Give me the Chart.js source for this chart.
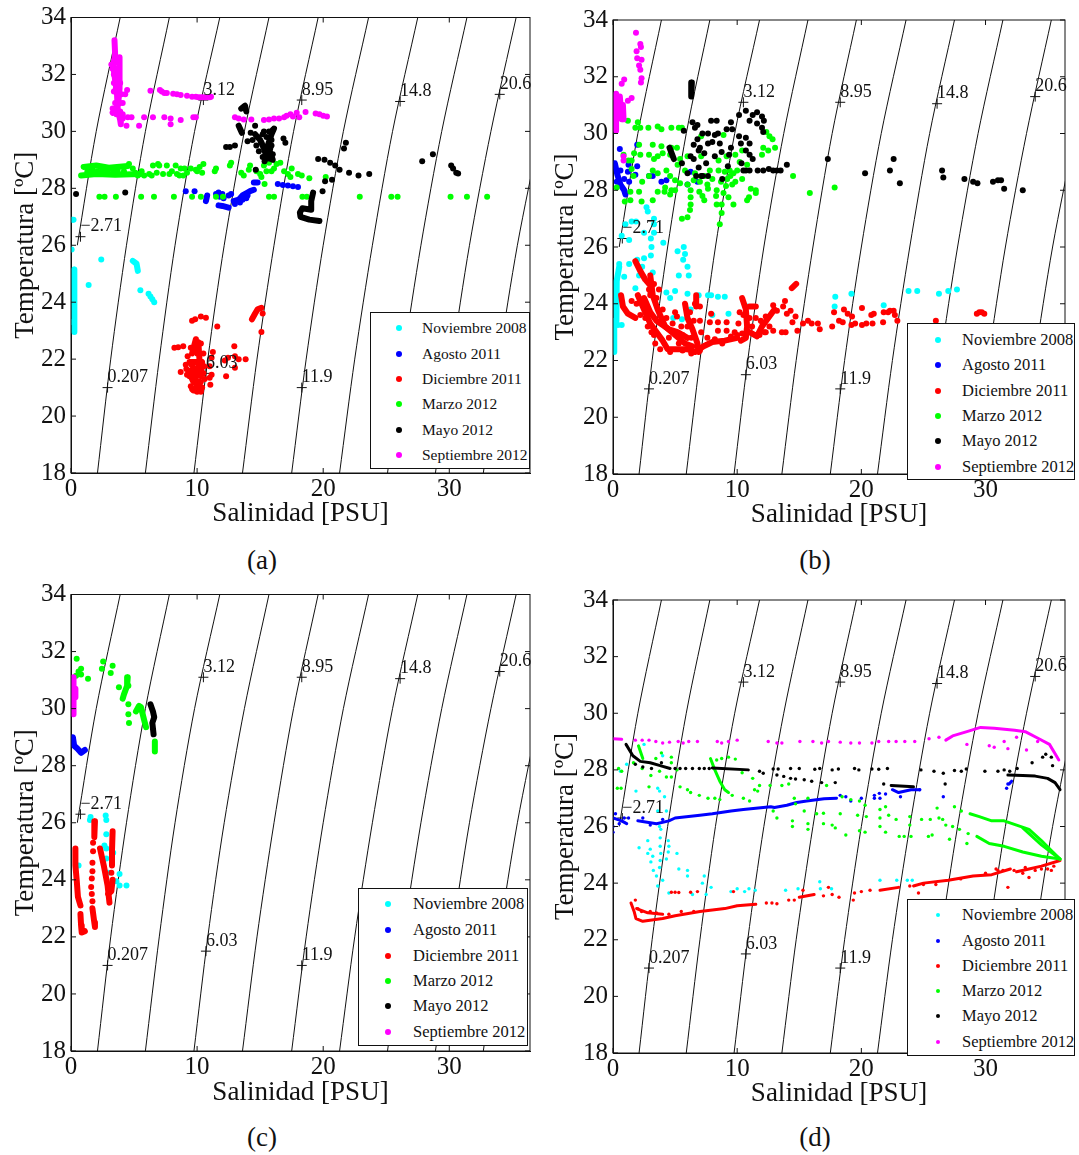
<!DOCTYPE html>
<html>
<head>
<meta charset="utf-8">
<title>Diagramas T-S</title>
<script src="https://cdn.jsdelivr.net/npm/chart.js@4"></script>
<style>
  body { margin: 0; background: #fff; width: 1079px; height: 1155px; position: relative; overflow: hidden; font-family: "Liberation Serif", serif; color: #111; }
  canvas { position: absolute; }
  .caption { position: absolute; font-size: 27px; transform: translate(-50%, -50%); }
  .legend { position: absolute; background: #fff; border: 1.5px solid #111; box-sizing: border-box; }
  .legend span { position: absolute; white-space: nowrap; transform: translateY(-50%); }
  .legend i { position: absolute; border-radius: 50%; transform: translate(-50%, -50%); }
</style>
</head>
<body>
<canvas id="panelA"></canvas>
<canvas id="panelB"></canvas>
<canvas id="panelC"></canvas>
<canvas id="panelD"></canvas>
<script>
const seriesNames = ['Noviembre 2008', 'Agosto 2011', 'Diciembre 2011', 'Marzo 2012', 'Mayo 2012', 'Septiembre 2012'];
const seriesColors = ['#00ffff', '#0000ff', '#ff0000', '#00ff00', '#000000', '#ff00ff'];
const xTitle = 'Salinidad [PSU]';
const yTitle = 'Temperatura [ºC]';

// isopicnas: salinidad leida a cada temperatura
const isoT = [18, 22, 26, 30, 34];
const isoLines = [
  [null, null, 0.5, 2.0, 3.9],
  [2.1, 3.15, 4.4, 5.9, 7.8],
  [5.9, 7.0, 8.25, 9.8, 11.8],
  [9.75, 10.85, 12.15, 13.75, 15.7],
  [13.6, 14.75, 16.1, 17.65, 19.6],
  [17.5, 18.65, 20.0, 21.6, 23.6],
  [21.3, 22.5, 23.9, 25.5, 27.5],
  [25.1, 26.35, 27.75, 29.4, 31.4],
  [28.9, 30.2, 31.6, 33.3, 35.3],
  [32.7, 33.95, 35.4, 37.2, null]
];
const isoLabels = ['\u22122.71', '3.12', '8.95', '14.8', '20.6', '0.207', '6.03', '11.9'];
const isoLabelS = [0.75, 10.5, 18.3, 26.1, 34.0, 2.9, 10.7, 18.3];
const isoLabelT = [26.3, 31.1, 31.1, 31.05, 31.3, 21.0, 21.5, 21.0];

// panel (a)
const aNov = [[0.1,26.9],[0.2,26.9],[0.05,25.85],[2.4,25.5],[5.5,24.42],[6.15,24.3],[6.3,24.2],[6.45,24.1],[6.6,24],[1.4,24.6],[0.05,23.3]];
const aNovT = [[[4.9,25.45],[5.2,25.35],[5.3,25.1]], [[0.25,25.15],[0.3,24.5],[0.25,23.3],[0.25,22.95]]];
const aAgo = [[9.1,27.9],[9.8,27.9],[11.5,27.8],[11.7,27.85],[11.8,27.7],[12,27.8],[12.1,27.65],[12.5,27.75],[12.7,27.8],[16.4,28.15],[16.8,28.12],[17.2,28.1],[17.6,28.07],[18,28.05],[13,27.45],[13.4,27.5],[13.6,27.6],[13.9,27.65],[14,27.75]];
const aAgoT = [[[10.7,27.55],[10.8,27.75]], [[11.7,27.4],[12,27.38],[12.5,27.32]], [[12.9,27.55],[13.3,27.6],[13.6,27.75],[14,27.85],[14.2,27.9],[14.5,27.95]], [[14.5,28.2],[14.8,28.2]]];
const aDic = [[8.7,21.55],[9.15,21.65],[8.2,22.4],[8.5,22.42],[8.9,22.45],[9.6,23.35],[9.85,23.4],[10.3,23.5],[10.7,23.45],[11.6,23.15],[11.25,22.25],[11.15,22.05],[11,21.75],[11.15,21.45],[11,21.35],[11.05,21.1],[10.4,21],[12.3,21.4],[12.2,21.95],[12.45,22.05],[12.95,22.45],[13,22.1],[13.3,22],[13.85,22],[13,21.7],[15.2,23.6],[15.1,22.95],[10.3,22.55],[9.4,21.4],[9.5,21.05],[9.6,21.8],[9.5,22.4],[9.8,22.4],[10,22.2],[10.1,21.7],[10.2,21.05],[10.5,21.5],[10.55,21.75],[9.95,21.1],[9.9,21.35],[10,20.85],[9.2,21.45],[9.1,21.8],[9.25,22.1],[10.5,22.2],[10.6,21.3],[9.6,20.95],[10.3,20.85]];
const aDicT = [[[9.9,22.7],[9.6,22.2],[10.1,22.6],[10.2,21.9],[9.4,21.9],[9.9,21.6],[10.4,21.9],[10.3,21.4],[9.3,21.6],[9.7,21.2],[10.3,21.2],[9.7,20.9],[10.3,20.9]], [[14.35,23.4],[14.6,23.6],[14.8,23.75],[15.1,23.8]]];
const aMar = [[5.6,28.6],[6.2,28.5],[6.5,28.8],[6.8,28.55],[7,28.8],[7.3,28.5],[7.6,28.8],[7.8,28.5],[8,28.6],[8.3,28.8],[8.4,28.5],[8.7,28.7],[9,28.7],[9.5,28.7],[9.9,28.65],[10.2,28.75],[10.5,28.85],[11.4,28.6],[11.5,28.7],[12.6,28.8],[12.7,28.9],[13.5,28.55],[13.7,28.45],[14.1,28.65],[14.2,28.8],[14.7,28.6],[15,28.5],[15.1,28.4],[15.5,28.6],[15.3,28.8],[15.7,28.9],[15.9,28.6],[16.1,28.7],[16.3,28.85],[16.6,28.9],[16.9,28.6],[17.2,28.5],[17.4,28.4],[17.5,28.7],[18,28.5],[18.3,28.45],[18.9,28.35],[20.2,28.4],[15.35,28.15],[2.25,27.7],[2.66,27.7],[3.56,27.7],[5.56,27.7],[6.58,27.7],[8.16,27.7],[9.6,27.7],[10.3,27.7],[11.5,27.7],[12.05,27.7],[15.7,27.7],[16.1,27.7],[18.35,27.7],[18.7,27.7],[22.9,27.7],[25.4,27.7],[25.9,27.7],[30.1,27.7],[31.4,27.7],[33,27.7],
  [1.3,28.6],[1.7,28.65],[2.1,28.6],[2.5,28.65],[2.9,28.6],[3.3,28.65],[3.7,28.6],[4.2,28.6],[4.6,28.85],[4.9,28.7],[5.1,28.55],[5.3,28.45],[5.8,28.45],[6.4,28.45],[6.9,28.85],[8.9,28.45],[8.6,28.45],[9.2,28.55],[10,28.6],[10.4,28.55]];
const aMarT = [[[1,28.75],[2,28.8],[3,28.72],[4.5,28.78]], [[0.8,28.45],[2,28.5],[3.5,28.48],[5.5,28.5]]];
const aMay = [[0.4,27.8],[4.3,27.85],[14.6,30.2],[12.3,29.45],[12.6,29.45],[13,29.5],[14,29.65],[14.25,29.95],[15.9,29.5],[16.85,29.75],[17,29.6],[14.65,28.65],[15.35,28.95],[19.6,29.03],[20.1,29],[20.55,28.9],[20.95,28.8],[21.3,28.65],[22.05,28.55],[22.8,28.45],[23.65,28.5],[21.65,29.4],[21.8,29.6],[20.15,28.25],[20.7,28.3],[19.95,27.9],[27.85,28.95],[28.7,29.2],[30.15,28.8],[30.3,28.7],[30.55,28.55],[30.7,28.52],
  [14.9,29.3],[15.2,29.9],[15.5,29.8],[15.3,30],[14.4,29.7],[14.8,29.8],[15.1,29.6],[15.5,29.3],[15.8,29.4],[15.2,29.1],[15.6,29.05],[15.9,29.7],[14.7,29.5],[16,29.2],[15.7,30],[16,30.05]];
const aMayT = [[[13.5,30.8],[13.8,30.9],[13.9,30.7]], [[13.3,30.2],[13.55,29.95]], [[14.6,29.9],[15,29.7],[15.3,29.4],[15.5,29.1],[16,29],[15.6,29.5],[15.9,29.9],[16.1,30.1]], [[19.2,27.85],[19.05,27.55],[19.05,27.25],[18.35,27.3],[18.15,27.15],[18.2,27],[18.9,26.9],[19.7,26.85]]];
const aSep = [[4.45,31.45],[4.3,31.3],[4.1,31],[4.1,30.45],[4.5,30.5],[4.8,30.5],[4.4,30.2],[5.4,30.2],[5.8,30.5],[6.5,30.5],[7.4,30.5],[7.9,30.45],[7.9,30.25],[8.7,30.4],[9.7,30.5],[9.9,30.5],[6.3,31.43],[7.05,31.45],[7.2,31.4],[7.4,31.35],[7.6,31.35],[8.1,31.32],[8.4,31.3],[8.7,31.28],[9.2,31.25],[9.6,31.22],[9.9,31.22],[10.1,31.2],[10.3,31.2],[10.5,31.2],[10.7,31.2],[11,31.2],[11.1,31.22],[13,30.5],[13.3,30.45],[13.7,30.42],[14.3,30.42],[15.3,30.4],[15.7,30.42],[16.1,30.45],[16.5,30.45],[16.9,30.5],[17.1,30.55],[17.4,30.6],[17.6,30.52],[17.9,30.65],[18.1,30.5],[18.6,30.68],[19.4,30.63],[19.7,30.6],[20,30.55],[20.3,30.52],
  [3.3,32.2],[3.4,32],[3.6,32.2],[3.4,31.7],[3.7,31.8],[3.55,31.5],[3.9,31.7],[3.4,31.4],[4,31.3],[3.5,31],[3.9,31],[3.3,30.8],[3.6,30.6],[3.9,30.7],[4.1,30.6],[3.7,32.4],[3.2,32.35]];
const aSepT = [[[3.45,33.2],[3.5,32.7],[3.35,32.3],[3.5,31.8],[3.65,31.3],[3.7,30.8],[3.9,30.4],[3.95,30.25]], [[3.85,32.6],[3.85,32],[3.85,31.5],[3.75,31],[3.5,30.7],[3.3,30.65]]];

// panel (b)
const bNov = [[2.7,27.4],[2.8,27.25],[3.3,27],[3.3,26.8],[1,26.8],[1.5,26.9],[1.85,26.9],[0.7,26.4],[1.3,26.25],[2.5,26.5],[3.05,26.3],[3.3,26.5],[3.1,26],[4.05,26.15],[5.2,25.85],[5.7,26],[5.8,25.75],[5.65,25.55],[6,25.3],[6.1,25],[5.3,25],[1.3,25.4],[1.95,25.55],[2.5,25.6],[3.05,25.7],[2.35,25.3],[2.1,25],[3.2,25.1],[0.9,24.95],[0.5,25.4],[1.8,24.55],[4.3,24.4],[5,24.45],[6,24.35],[4.6,24.2],[7.65,24.3],[8.45,24.25],[9,24.25],[9.3,23.65],[8,23.6],[5.55,23.45],[4.85,23.5],[6.25,23.8],[17.9,24.25],[17.85,23.9],[19.2,24.35],[21.8,23.95],[23.8,24.45],[24.5,24.45],[26.25,24.35],[27,24.45],[27.7,24.5],[0.4,23.25],[0.7,23.25],[10.8,23.9],[6.9,24.3],[7.9,24.3]];
const bNovT = [[[0.5,25.3],[0.3,24.8],[0.25,24.3],[0.3,23.4]], [[0.1,23.4],[0.1,22.3]]];
const bAgo = [[0.55,29.45],[1.95,29.6],[1.25,28.9],[1.95,28.85],[1.2,28.65],[1.8,28.55],[1.3,28.3],[2.9,28.5],[3.2,28.5],[3.9,28.3],[4.3,28.35],[6,28.2],[6.25,28.65],[6.8,28.3],[0.3,28.3],[0.6,28.7],[0.9,28.4]];
const bAgoT = [[[0.15,28.95],[0.35,28.55],[0.6,28.2],[0.9,28],[1,27.85]]];
const bDic = [[12.9,23.95],[13.7,23.9],[13.85,24.1],[13.2,23.75],[14,23.65],[14.3,23.75],[14.7,23.55],[14.45,23.35],[14.85,23.05],[15.3,23.3],[15.7,23.4],[16,23.3],[16.5,23.3],[16.65,23.1],[17.65,23.2],[17.8,23.7],[18.2,23.4],[18.5,23.35],[18.6,23.8],[18.9,23.65],[19.25,23.55],[19.2,23.25],[19.5,23.3],[20.05,23.85],[20.05,23.25],[20.4,23.3],[20.8,23.6],[21,23.65],[20.9,23.3],[21.75,23.35],[21.8,23.7],[22.15,23.7],[22.3,23.75],[22.6,23.75],[22.7,23.6],[22.9,23.4],[26,23.4],[29.3,23.65],[29.5,23.7],[29.7,23.7],[29.9,23.65],[7.9,23.65],[8.45,23.35],[8.45,23.05],[9.15,23.35],[9.15,23.05],[7.8,23.35],[12.05,23.3],[12.2,23],[12.9,23.05],[13.6,23],[13.9,23],[5.15,23.55],
  [1.5,24.1],[1.9,24],[2.2,23.6],[2.6,23.5],[2.9,24.5],[3.3,24.7],[3.5,24.2],[3.7,24.5],[2.8,23.2],[3.3,22.9],[3.9,23.4],[4,23.8],[4.3,23.5],[4.5,22.8],[4.8,23.3],[5,23.7],[5.3,22.6],[5.5,23.2],[5.6,22.9],[6,23.2],[6.2,23.7],[6.3,22.8],[6.5,23.4],[7,23.9],[7,23.4],[7.1,23],[6.6,24],[7.6,22.8],[8.2,22.75],[8.8,22.6],[9.5,22.85],[9.8,23],[10,22.9],[10.4,22.95],[10.1,23.3],[10.5,23.6],[10.2,23.7],[11,23.5],[11.2,23.2],[11.5,23.5],[11.9,23.4],[11.8,22.9],[12.3,23],[12.6,23.2],[12.3,23.55],[3.8,22.4],[4.6,22.3],[5.6,22.35],[6.3,22.25],[7,22.35],[3.1,23],[3.4,22.6]];
const bDicT = [[[1.8,25.5],[2.2,25.15],[2.6,24.85],[3.1,24.6],[3,24.3]], [[0.65,24.3],[0.8,23.9],[1.2,23.65],[1.8,23.5]], [[2,24.3],[2.5,23.8],[3,23.3],[3.5,23],[4,22.7],[4.4,22.4],[5,22.4],[6,22.4],[6.6,22.3],[7.3,22.5],[8,22.65],[9,22.7],[10,22.8]], [[3,25],[3.2,24.3],[3.6,23.8],[4.2,23.2],[5,22.9],[5.8,22.6],[6.4,22.5]], [[2.5,24.2],[3,23.7],[3.5,23.4],[4.5,23.1],[5.2,23],[6,22.8]], [[5.8,24],[6,23.5],[6.4,23.1],[6.8,22.6],[6.9,22.3]], [[6.7,24.3],[6.7,23.9]], [[10.4,24.2],[10.7,23.8],[10.8,23.2],[10.7,22.8],[10.3,22.7]], [[11,23.9],[11.5,23.9]], [[11,23],[11.6,22.85],[12,23.2],[12.5,23.5],[13,23.8]], [[14.4,24.55],[14.75,24.7]]];
const bMar = [[1.2,30.45],[2,30.4],[1.8,30.2],[2.2,30.2],[2.85,30.2],[3.6,30.25],[3.9,30.15],[4.7,30.2],[5.3,30.2],[5.55,30.2],[7.1,29.9],[8.9,29.95],[12.35,30.05],[12.6,29.9],[12.85,29.8],[13.05,29.5],[12.5,29.4],[12.1,29.5],[12,29.25],[10,28.7],[2.1,29.6],[3.2,29.6],[3.9,29.55],[4.7,29.5],[5.15,29.5],[0.85,29.25],[1.25,29.05],[1.7,29.3],[2.2,29.25],[1.5,29.05],[2.9,29.25],[3.6,29.2],[4,29.3],[4.6,29.25],[5.4,29.1],[6,29.2],[7.1,29.2],[8.5,29.05],[9.15,29.2],[9.85,29.25],[10.4,29.4],[1.5,28.75],[1.65,28.5],[2.35,28.3],[2.9,28.5],[3.2,28.7],[3.6,28.6],[4.3,28.7],[4.6,28.5],[5,28.35],[5.4,28.25],[6,28.2],[6.5,28.35],[7.35,28.5],[7.8,28.7],[8.5,28.7],[9,28.65],[9.45,28.5],[9.85,28.3],[10.4,28.4],[0.3,28.1],[1.4,27.95],[2.1,27.95],[3.6,27.95],[4.15,27.95],[4.7,28],[4.6,27.85],[6.25,28],[6.95,27.95],[7.65,28.05],[8.35,28],[8.9,27.9],[9.3,27.75],[11.1,28.05],[11.5,28],[11.5,27.9],[10.95,27.75],[10.8,27.65],[0.95,27.6],[1.4,27.65],[2.3,27.6],[3.2,27.65],[6.25,27.75],[6.25,27.5],[6.2,27.3],[6,27.05],[5.55,27],[7.35,27.65],[8.35,27.5],[8.75,27.5],[9.7,27.5],[8.75,27.2],[8.6,26.8],[14.5,28.5],[15.85,27.9],[17.85,28.1],[9.2,28.4],[9.4,28.7],[9.6,28.2],[9.1,28.15],[9.7,28.6],[8.7,28.3],[3.3,29.1],[4.2,28.1],[5,28],[7,28.3],[7.6,28.2],[8,28.4],[8.3,27.8],[7.2,27.8],[6.6,28.6],[5.8,28.7],[5.2,28.9],[10.2,29],[10.8,28.9]];
const bMarT = [];
const bMay = [[5.7,30.1],[7.9,30.45],[8.35,30.45],[6.8,30.3],[7.65,30],[8.2,29.95],[8.45,30],[8.6,29.65],[7.65,29.65],[7.35,29.3],[7.5,28.95],[8.2,29.2],[8.75,29.35],[9.35,29.25],[9.5,29.5],[9.15,30.15],[9.5,30.4],[9.6,30.15],[10.15,29.9],[10.3,29.65],[10.7,29.85],[11,29.65],[10.7,29.4],[11,29.25],[11.25,29.1],[10.15,30.65],[10.7,30.8],[11.25,30.65],[11.6,30.75],[12,30.6],[12.15,30.45],[11,30.45],[11.6,30.35],[12,30.2],[12.1,30.05],[6.25,29.2],[5.55,28.95],[6,28.6],[7.65,28.5],[7.1,28.5],[8.8,28.4],[9.25,28.85],[10.35,28.95],[10.5,28.7],[10.7,28.7],[11,28.7],[11.65,28.7],[12.1,28.7],[12.55,28.75],[12.9,28.7],[13.2,28.7],[13.5,28.7],[14,28.9],[17.3,29.1],[20.3,28.6],[22.3,28.7],[22.6,29.1],[23.1,28.25],[26.5,28.7],[26.6,28.45],[28.3,28.4],[29,28.3],[29.35,28.25],[30.6,28.3],[31,28.35],[31.25,28.35],[31.5,28.05],[33,28],[7.2,30],[7,29.5],[8,29.7],[6.4,30.4],[6.6,30.2],[6.8,29.8],[6.5,29.6],[6.9,29.4],[6.5,29.1],[6.9,28.8],[6.7,28.5],[7.2,28.5]];
const bMayT = [[[6.35,31.8],[6.3,31.3]], [[4.55,29.5],[4.9,29.1]]];
const bSep = [[1.85,33.55],[2.2,33.15],[2.25,33.05],[1.9,32.9],[1.95,32.65],[2.3,32.6],[2.1,32.4],[2.2,32.25],[2.3,31.95],[2.25,31.8],[0.9,31.9],[0.7,31.75],[1.5,31.25],[1.2,31.15],[0.85,29.05],[0.85,29.2]];
const bSepT = [[[0.25,31.4],[0.25,30.1]], [[0.55,31.3],[0.7,30.5]], [[0.8,31],[0.85,30.5]]];

// panel (c)
const cNov = [[1.55,26.2],[1.5,26.1],[2.75,26.25],[2.8,26.1],[2.8,25.6],[2.65,25.2],[2.8,25.1],[3.35,24.95],[2.8,24.75],[0.6,24.5],[2.95,24.25],[3.85,24.2],[3.6,23.95],[3.85,23.8],[4.4,23.8]];
const cNovT = [];
const cAgo = [];
const cAgoT = [[[0.15,29],[0.25,28.7],[0.5,28.6],[0.8,28.45],[1.1,28.55]]];
const cDic = [[1.75,25],[1.75,25.3],[1.7,24.3],[1.65,24.05],[1.6,23.75],[1.65,23.5],[1.7,23.25],[3.2,24.25],[1.7,24.6]];
const cDicT = [[[0.35,25.1],[0.35,24.5],[0.45,24],[0.55,23.4],[0.75,23.1]], [[0.75,22.8],[0.8,22.4],[0.85,22.15],[1.1,22.2]], [[1.9,26.05],[1.85,25.5]], [[1.7,23],[1.85,22.5],[1.9,22.35]], [[2.3,25.1],[2.6,24.5],[2.9,23.8],[3.05,23.2]], [[3.3,25.7],[3.25,25],[3.25,24.5]], [[3.3,24],[3.2,23.6],[2.95,23.5]]];
const cMar = [[0.45,31.75],[2.55,31.65],[2.45,31.4],[3.3,31.5],[3.15,31.25],[1.35,31.05],[3.8,30.75],[0.8,31.4],[0.6,31.3],[0.4,31.15],[0.8,31.2],[4.55,30.8],[4.55,30.15],[4.55,29.8],[4.6,29.5]];
const cMarT = [[[4.5,31.1],[4.45,30.8],[4.2,30.5],[4.1,30.35]], [[5.15,29.9],[5.4,30.1],[5.55,30.05],[5.8,29.6],[5.95,29.35]], [[6.65,28.85],[6.65,28.5]]];
const cMay = [];
const cMayT = [[[6.3,30.15],[6.5,29.9],[6.6,29.7],[6.45,29.5],[6.55,29.1]]];
const cSep = [];
const cSepT = [[[0.2,31.1],[0.2,29.8]], [[0.35,30.7],[0.35,30.4]]];

// panel (d)
const dNov = [[1.1,28.2],[0.6,27.95],[1.85,27.25],[2.5,28.9],[3.6,27.35],[3.75,27.25],[4.15,27.05],[4,28.5],[3.6,26.55],[4.3,26.55],[3.75,26],[2.1,25.25],[2.8,25.5],[2.8,25.05],[3.05,24.75],[3.25,24.45],[3.75,24.55],[3.5,24.25],[3.6,23.9],[4,24.1],[5.15,25.05],[5.3,24.5],[6,24.45],[6,24.25],[7.35,24.25],[7.2,24],[7.9,23.85],[7.5,23.6],[4.5,23.65],[6.4,23.6],[9.5,23.7],[10,23.8],[10.6,23.7],[10.95,23.8],[11.45,23.75],[13.9,23.75],[14.9,23.8],[16.65,24.05],[16.7,23.8],[17.6,23.8],[21.5,24.1],[22.85,24.1],[23.7,24.1],[24.1,24.1],[3.85,25.9],[3.8,25.6],[3.8,25.3],[3.85,25.05],[3.8,24.8],[4.45,25.5],[4.5,25.3],[4.45,25.1],[4.3,24.85],[3,25.2],[3.2,24.95]];
const dNovT = [];
const dAgo = [[18.3,27.1],[18.75,27.05],[19.15,26.9],[20,27],[21.05,27.1],[21.05,27],[21.5,27],[21.45,27.17],[21.95,27.15],[26.6,27.05],[31.7,27.35],[31.8,27.5],[23.15,27.05],[1.25,26.3],[0,25.8],[0,26],[0.2,26.45],[24.7,27.3],[0.5,26.1],[0.9,26.3],[2.4,26.3],[3,26.05],[4,26.25]];
const dAgoT = [[[0,26.3],[0.7,26.2],[1.1,26.1]], [[2,26.2],[3.5,26.1],[4.5,26.2],[5,26.3],[7,26.4],[8,26.45],[9.5,26.55],[10.5,26.6],[12.7,26.7],[13,26.67],[14,26.75],[14.8,26.85],[15.6,26.9],[17,26.98],[18,27]], [[31.9,27.5],[32.1,27.6]], [[22.5,27.3],[23,27.2],[24,27.3],[24.7,27.3]]];
const dDic = [[1.8,23.4],[12.35,23.3],[12.8,23.3],[13.2,23.27],[14.15,23.4],[14.6,23.4],[16.95,23.55],[17.35,23.85],[17.65,23.6],[18.2,23.5],[19.35,23.4],[19.45,23.65],[20,23.7],[20.7,23.75],[23.9,23.9],[24.6,23.65],[31.8,23.85],[30.85,24.5],[31.4,24.45],[33.5,24.2],[4.7,23.68],[5,23.68],[5.3,23.67],[6.25,23.68],[6.8,23.7],[9.7,23.7],[15.3,23.75],[25,23.95],[26,23.95],[28,24.15],[30,24.35],[31,24.45],[32.3,24.45],[33,24.35],[33.2,24.55],[34,24.45],[34.5,24.5],[35,24.5],[35.3,24.45],[35.5,24.6],[2,23.1],[2.3,23],[3,23],[3.5,22.95],[4.5,22.9],[5.5,23],[6.5,23]];
const dDicT = [[[1.45,23.3],[1.7,23],[1.85,22.75],[2.4,22.65],[4,22.75],[5,22.85],[7,23],[9,23.1],[10,23.2],[11.5,23.25]], [[1.9,23.1],[2.8,22.95],[4,22.9]], [[15,23.5],[16.2,23.6]], [[21.5,23.75],[23,23.85]], [[24.2,23.9],[25,24],[27,24.1],[29,24.25],[30.5,24.3],[32,24.5]], [[32.5,24.4],[33.5,24.5],[34.5,24.6],[36,24.8]]];
const dMar = [[0.45,28.05],[0.7,27.95],[0.35,27.35],[0.65,27.35],[1.65,28.25],[2.35,28.05],[2.9,27.4],[3.05,27.8],[3.45,28.4],[3.9,28.6],[4.7,28.45],[4.7,28.25],[3.75,27.95],[4.3,27.75],[4.7,27.75],[5.15,28],[5.4,27.4],[6,27.3],[6.25,27.2],[6.95,27.1],[7.65,27],[8.2,27],[8.6,26.95],[8.35,28.35],[8.75,28.4],[9.3,28.45],[9.85,28.38],[9.6,27.1],[10.5,27],[11,26.9],[11.4,27.3],[11.65,27.25],[11.8,27.45],[12.65,27.45],[10.4,27.9],[11.25,27.7],[13.6,27.45],[14.15,27.5],[14.6,27],[14.7,26.8],[15.4,26.55],[15.7,27],[16.4,26.45],[17.2,27.45],[16.95,26.47],[12.9,26.55],[13.2,26.3],[14.45,26.2],[14.45,26],[15.7,26.1],[15.7,25.9],[16.95,26.1],[17.65,26.05],[17.9,25.95],[18.75,25.7],[18.3,26.45],[19.7,26.4],[19.85,25.85],[20.3,25.8],[20.4,26.35],[21.5,26.6],[21.5,26.3],[21.5,26],[21.95,26.7],[21.95,25.8],[22.2,26.4],[23.05,25.65],[23.45,25.65],[22.8,26.25],[23.9,26.35],[23.9,26.05],[24,25.65],[24.85,26.25],[25.4,25.65],[25.7,25.7],[25.55,26.25],[26.1,26.65],[26.25,26.3],[26.55,26.25],[27.5,26.7],[26.8,26.05],[27.35,26],[27.1,25.55],[28.05,26.55],[27.9,25.9],[28.5,25.4],[28.6,25.75],[18.45,27.05],[19.15,26.95],[19.85,26.9],[20.3,26.75]];
const dMarT = [[[2.05,28.85],[2.4,28.4]], [[7.85,28.4],[8.2,28],[8.6,27.6],[9,27.3],[9.3,27.2]], [[28.75,26.45],[29.5,26.35],[30.5,26.2],[31.5,26.2],[32.5,26.05],[33.5,25.9],[34.5,25.5],[35.3,25.15],[36,24.85]], [[29.3,25.65],[30.3,25.4],[31.5,25.3],[33,25.1],[34.5,24.95],[36,24.85]], [[33,25.95],[34.5,25.35],[36,24.85]]];
const dMay = [[5,28.05],[5.4,28.05],[5.85,28.05],[6.4,28.05],[6.95,28.05],[7.35,28.05],[7.75,28.05],[11.8,27.95],[12.1,27.88],[12.9,28.03],[13.3,28.03],[14.3,28.05],[15,28.05],[16.25,28.02],[16.65,28.05],[17.65,28],[18.15,28.03],[19.45,28.05],[19.8,28],[20.85,28.03],[21.4,28.02],[22.1,28.05],[13.2,27.82],[13.75,27.77],[14.3,27.7],[14.7,27.68],[15.4,27.65],[16,27.6],[16.8,27.55],[17.9,27.55],[21.8,27.5],[24.8,28],[25.85,27.95],[26.6,27.88],[26.75,27.5],[27.5,27.98],[28.05,27.95],[28.45,28.03],[29.95,27.95],[31,27.95],[31.5,28],[31.95,27.95],[32.55,28.05],[33.75,28.25],[34.6,28.45],[35.4,28.15],[34.85,28.55],[35.3,28.45],[1.8,28.2],[2.4,28.1],[3.1,28.05],[3.9,28.25]];
const dMayT = [[[1.05,28.9],[1.6,28.5],[2.2,28.3],[3,28.25],[3.8,28.15],[4.6,28.05]], [[8,28.07],[10.9,28]], [[31.8,27.82],[33,27.8],[34,27.78],[35,27.7],[35.6,27.55],[36,27.3]], [[22.4,27.45],[24.2,27.4]]];
const dSep = [[1.8,29.05],[2.35,29.05],[2.9,29.05],[3.45,29],[4,28.95],[4.55,28.98],[5.25,29],[5.65,28.95],[6.1,29],[6.8,29],[8.4,29],[8.75,28.95],[9.3,29],[10,29.05],[12.5,29],[13.2,28.95],[13.6,28.95],[15.05,29],[16.1,29],[16.8,28.95],[17.35,29],[18.3,28.98],[19.15,28.95],[19.85,28.95],[20.85,28.95],[21.4,29],[22.2,29],[22.8,29],[23.5,29],[24.3,29],[25.45,29.1],[26.25,29.15],[28.5,28.9],[30.3,28.85],[30.7,28.8],[31.5,29],[32.5,29.15],[33.3,28.7],[34.2,29],[31.8,28.75]];
const dSepT = [[[0,29.1],[0.7,29.08]], [[26.8,29.05],[27.35,29.2],[28.5,29.35],[29.6,29.5],[30.7,29.47],[32.35,29.4],[33.2,29.35],[34.3,29.1],[35.15,28.9],[35.7,28.5],[35.9,28.35]]];

const TICK_FONT = { family: 'Liberation Serif', size: 25, lineHeight: 1 };
const TITLE_FONT = { family: 'Liberation Serif', size: 27 };
const LABEL_FONT = '18px "Liberation Serif"';

// ticks hacia dentro en los cuatro lados, marco, y rotulos de isopicnas
const boxPlugin = {
  id: 'box',
  afterDatasetsDraw(chart) {
    const { ctx, chartArea: a, scales: { x, y } } = chart;
    ctx.save();
    ctx.fillStyle = '#111';
    ctx.font = LABEL_FONT;
    ctx.textBaseline = 'middle';
    isoLabels.forEach((t, i) => {
      ctx.fillText(t, x.getPixelForValue(isoLabelS[i]), y.getPixelForValue(isoLabelT[i]) - 10);
    });
    ctx.strokeStyle = '#111';
    ctx.lineWidth = 1;
    ctx.strokeRect(a.left, a.top, a.right - a.left, a.bottom - a.top);
    ctx.beginPath();
    x.ticks.forEach(t => {
      const px = x.getPixelForValue(t.value);
      ctx.moveTo(px, a.top); ctx.lineTo(px, a.top + 5);
      ctx.moveTo(px, a.bottom); ctx.lineTo(px, a.bottom - 5);
    });
    y.ticks.forEach(t => {
      const py = y.getPixelForValue(t.value);
      ctx.moveTo(a.left, py); ctx.lineTo(a.left + 5, py);
      ctx.moveTo(a.right, py); ctx.lineTo(a.right - 5, py);
    });
    ctx.stroke();
    ctx.restore();
  }
};

function buildDatasets(points, tracks, radius, trackWidth) {
  const sets = [];
  isoLines.forEach(line => {
    const data = [];
    line.forEach((s, i) => { if (s !== null) data.push({ x: s, y: isoT[i] }); });
    sets.push({ data, showLine: true, borderColor: '#111', borderWidth: 1, pointRadius: 0, tension: 0.3, order: 20 });
  });
  sets.push({
    data: isoLabelS.map((s, i) => ({ x: s, y: isoLabelT[i] })),
    pointStyle: 'cross', pointRadius: 5, borderColor: '#111', pointBorderWidth: 1, order: 19
  });
  seriesNames.forEach((name, k) => {
    const color = seriesColors[k];
    const order = 10 - k;
    sets.push({ label: name, data: points[k].map(p => ({ x: p[0], y: p[1] })), pointRadius: radius, backgroundColor: color, borderColor: color, pointBorderWidth: 0, order });
    tracks[k].forEach(tr => {
      sets.push({ label: name, data: tr.map(p => ({ x: p[0], y: p[1] })), showLine: true, pointRadius: 0, borderColor: color, borderWidth: trackWidth, borderCapStyle: 'round', borderJoinStyle: 'round', order });
    });
  });
  return sets;
}

function drawPanel(id, box, points, tracks, radius, trackWidth) {
  const canvas = document.getElementById(id);
  canvas.width = box.width;
  canvas.height = box.bottom + box.xh;
  canvas.style.left = box.x + 'px';
  canvas.style.top = box.y + 'px';
  new Chart(canvas, {
    type: 'scatter',
    data: { datasets: buildDatasets(points, tracks, radius, trackWidth) },
    plugins: [boxPlugin],
    options: {
      responsive: false,
      animation: false,
      layout: { padding: { top: box.top, right: box.width - box.right } },
      plugins: { legend: { display: false }, tooltip: { enabled: false } },
      scales: {
        x: {
          type: 'linear', min: 0, max: 36.4,
          afterFit: s => { s.height = box.xh; },
          grid: { display: false, drawTicks: false },
          border: { color: '#111' },
          ticks: { stepSize: 10, includeBounds: false, maxRotation: 0, padding: 4, color: '#111', font: TICK_FONT },
          title: { display: true, text: xTitle, color: '#111', font: TITLE_FONT, padding: { top: 0, bottom: 0 } }
        },
        y: {
          type: 'linear', min: 18, max: 34,
          afterFit: s => { s.width = box.left; },
          grid: { display: false, drawTicks: false },
          border: { color: '#111' },
          ticks: { stepSize: 2, includeBounds: false, padding: 5, color: '#111', font: TICK_FONT },
          title: { display: true, text: yTitle, color: '#111', font: TITLE_FONT, padding: { top: 10, bottom: 0 } }
        }
      }
    }
  });
}

function drawLegend(l) {
  const div = document.createElement('div');
  div.className = 'legend';
  div.style.cssText = `left:${l.x}px;top:${l.y}px;width:${l.w}px;height:${l.h}px;font-size:${l.font}px`;
  seriesNames.forEach((name, k) => {
    const dot = document.createElement('i');
    dot.style.cssText = `left:${l.dot}px;top:${l.rows[k]}px;width:${l.size}px;height:${l.size}px;background:${seriesColors[k]}`;
    const label = document.createElement('span');
    label.style.cssText = `left:${l.text}px;top:${l.rows[k]}px`;
    label.textContent = name;
    div.append(dot, label);
  });
  document.body.appendChild(div);
}

function drawCaption(text, x, y) {
  const div = document.createElement('div');
  div.className = 'caption';
  div.style.cssText = `left:${x}px;top:${y}px`;
  div.textContent = text;
  document.body.appendChild(div);
}

drawPanel('panelA', { x: 0, y: 0, width: 536, left: 71, right: 530, top: 15, bottom: 473, xh: 57 },
  [aNov, aAgo, aDic, aMar, aMay, aSep], [aNovT, aAgoT, aDicT, aMarT, aMayT, aSepT], 3, 6);
drawPanel('panelB', { x: 540, y: 0, width: 532, left: 73, right: 525, top: 20, bottom: 474, xh: 57 },
  [bNov, bAgo, bDic, bMar, bMay, bSep], [bNovT, bAgoT, bDicT, bMarT, bMayT, bSepT], 3, 6);
drawPanel('panelC', { x: 0, y: 577, width: 536, left: 71, right: 530, top: 17, bottom: 474, xh: 58 },
  [cNov, cAgo, cDic, cMar, cMay, cSep], [cNovT, cAgoT, cDicT, cMarT, cMayT, cSepT], 3, 6);
drawPanel('panelD', { x: 540, y: 580, width: 532, left: 73, right: 525, top: 20, bottom: 473, xh: 57 },
  [dNov, dAgo, dDic, dMar, dMay, dSep], [dNovT, dAgoT, dDicT, dMarT, dMayT, dSepT], 1.7, 3);

drawLegend({ x: 370, y: 312, w: 160, h: 157, font: 15.5, dot: 28, text: 51, size: 6, rows: [15, 41, 66, 91, 117, 142] });
drawLegend({ x: 907, y: 323, w: 168, h: 157, font: 16.5, dot: 30, text: 54, size: 6, rows: [16, 41, 67, 92, 117, 143] });
drawLegend({ x: 358, y: 888, w: 170, h: 158, font: 16.5, dot: 29, text: 54, size: 6, rows: [15, 41, 67, 92, 117, 143] });
drawLegend({ x: 907, y: 899, w: 168, h: 157, font: 16.5, dot: 30, text: 54, size: 4, rows: [15, 41, 66, 91, 116, 142] });

drawCaption('(a)', 262, 560);
drawCaption('(b)', 815, 560);
drawCaption('(c)', 262, 1137);
drawCaption('(d)', 815, 1137);
</script>
</body>
</html>
